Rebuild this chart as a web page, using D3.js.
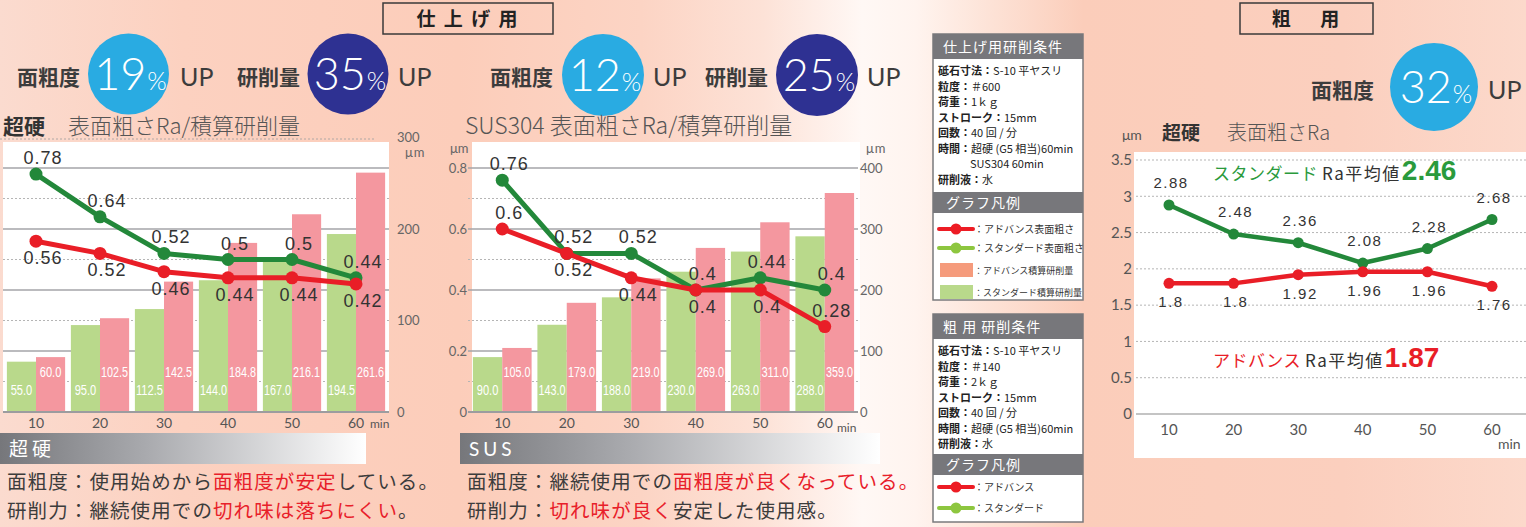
<!DOCTYPE html>
<html>
<head>
<meta charset="utf-8">
<script src="https://cdn.jsdelivr.net/npm/d3@7"></script>
<style>
  html, body { margin: 0; padding: 0; background: #fff; }
  svg { display: block; }
</style>
</head>
<body>
<svg id="chart" width="1526" height="527"></svg>
<script>
// ---- data ----
const minutes = [10, 20, 30, 40, 50, 60];

// 超硬 (finishing)
const carbideStdRa = [0.78, 0.64, 0.52, 0.5, 0.5, 0.44];
const carbideAdvRa = [0.56, 0.52, 0.46, 0.44, 0.44, 0.42];
const carbideStdRemoval = [55.0, 95.0, 112.5, 144.0, 167.0, 194.5];
const carbideAdvRemoval = [60.0, 102.5, 142.5, 184.8, 216.1, 261.6];

// SUS304 (finishing)
const susStdRa = [0.76, 0.52, 0.52, 0.4, 0.44, 0.4];
const susAdvRa = [0.6, 0.52, 0.44, 0.4, 0.4, 0.28];
const susStdRemoval = [90.0, 143.0, 188.0, 230.0, 263.0, 288.0];
const susAdvRemoval = [105.0, 179.0, 219.0, 269.0, 311.0, 359.0];

// 超硬 (roughing)
const roughStdRa = [2.88, 2.48, 2.36, 2.08, 2.28, 2.68];
const roughAdvRa = [1.8, 1.8, 1.92, 1.96, 1.96, 1.76];
const roughStdAvg = 2.46;
const roughAdvAvg = 1.87;

// tick values
const raTicks = [0, 0.2, 0.4, 0.6, 0.8];
const carbideRemovalTicks = [0, 100, 200, 300];
const susRemovalTicks = [0, 100, 200, 300, 400];
const roughRaTicks = [0, 0.5, 1, 1.5, 2, 2.5, 3, 3.5];

// ---- colours & fonts ----
const C = {
  stdLine: "#23883a", advLine: "#e91e27",
  stdBar: "#b9d98b", advBar: "#f4979f",
  text: "#444", tick: "#666",
  sky: "#29abe2", navy: "#2e3192",
  legendGreen: "#8dc63f", legendSalmon: "#f59b7c"
};
const JP = "'Noto Sans CJK JP', 'Noto Sans', sans-serif";
const LAT = "Lato, 'Open Sans', 'Liberation Sans', sans-serif";
const NUM = "'Liberation Sans', Arial, sans-serif";

const svg = d3.select("#chart");
const defs = svg.append("defs");

// background wash
const bgGrad = defs.append("linearGradient").attr("id", "bgGrad")
  .attr("x1", 0).attr("x2", 1).attr("y1", 0).attr("y2", 0);
[[0, "#fbdbcf"], [0.12, "#fcd1c0"], [0.3, "#fccdba"], [0.42, "#fcd4c4"],
 [0.5, "#fde2d7"], [0.565, "#fff8f5"], [0.6, "#fff4ef"], [0.65, "#fde2d6"],
 [0.71, "#fbcdba"], [0.88, "#fbcfbe"], [1, "#fcd9cb"]]
  .forEach(([o, c]) => bgGrad.append("stop").attr("offset", o).attr("stop-color", c));
svg.append("rect").attr("width", 1526).attr("height", 527).attr("fill", "url(#bgGrad)");

// grey fade for section captions
const capGrad = defs.append("linearGradient").attr("id", "capGrad")
  .attr("x1", 0).attr("x2", 1).attr("y1", 0).attr("y2", 0);
[[0, "#76777b"], [0.4, "#a9aaae"], [1, "#ffffff"]]
  .forEach(([o, c]) => capGrad.append("stop").attr("offset", o).attr("stop-color", c));

// ---- helpers ----
function txt(g, x, y, s, size, opts = {}) {
  return g.append("text").attr("x", x).attr("y", y).text(s)
    .attr("font-family", opts.family || JP)
    .attr("font-size", size)
    .attr("font-weight", opts.weight || 400)
    .attr("fill", opts.fill || C.text)
    .attr("text-anchor", opts.anchor || "start")
    .attr("letter-spacing", opts.ls || 0);
}

function titleBox(x, y, w, h, label) {
  svg.append("rect").attr("x", x).attr("y", y).attr("width", w).attr("height", h)
    .attr("fill", "none").attr("stroke", "#3a3a3a").attr("stroke-width", 1.5);
  txt(svg, x + w / 2, y + h / 2 + 7, label, 19, { weight: 700, anchor: "middle", fill: "#222", ls: 2 });
}

function badge(label, lx, cx, cy, r, color, pct, upX, baseY) {
  txt(svg, lx, baseY, label, 21, { weight: 700, fill: "#3c3c3c" });
  svg.append("circle").attr("cx", cx).attr("cy", cy).attr("r", r).attr("fill", color);
  const t = svg.append("text").attr("x", cx + 2).attr("y", cy + 16)
    .attr("text-anchor", "middle").attr("fill", "#fff").attr("font-family", LAT).attr("font-weight", 300);
  t.append("tspan").attr("font-size", 45).text(pct);
  t.append("tspan").attr("font-size", 25).attr("dx", 1).text("%");
  txt(svg, upX, baseY + 1, "UP", 25, { family: LAT, fill: "#3c3c3c" });
}

// condensed white value label inside a bar
function barLabel(sel, x, y, fmt) {
  sel.append("text").attr("x", x).attr("y", y).attr("text-anchor", "middle")
    .attr("font-family", NUM).attr("font-size", 14).attr("fill", "#fff")
    .attr("lengthAdjust", "spacingAndGlyphs")
    .attr("textLength", (d, i) => fmt(i).length * 5.4)
    .text((d, i) => fmt(i));
}

// ---- dual-axis chart: Ra lines over cumulative removal bars ----
function dualChart(o) {
  const g = svg.append("g");
  const x = d3.scaleBand().domain(minutes).range([o.x0, o.x1]).paddingInner(0.09).paddingOuter(0.045);
  const half = x.bandwidth() / 2;
  const yRa = d3.scaleLinear().domain([0, 0.8]).range([412, 168]);
  const yRem = d3.scaleLinear().domain([0, o.remMax]).range([412, o.remTopY]);

  g.append("rect").attr("x", o.plotX0).attr("y", 142)
    .attr("width", o.plotX1 - o.plotX0).attr("height", 270).attr("fill", "#fff");

  // grid: solid at Ra ticks, dotted half-way between
  raTicks.forEach((t, i) => {
    if (t > 0) g.append("line").attr("x1", o.gridX0).attr("x2", o.gridX1)
      .attr("y1", yRa(t)).attr("y2", yRa(t)).attr("stroke", "#a5a5a8").attr("stroke-width", 1.6);
    if (i < raTicks.length - 1) {
      const m = (t + raTicks[i + 1]) / 2;
      g.append("line").attr("x1", o.gridX0).attr("x2", o.gridX1)
        .attr("y1", yRa(m)).attr("y2", yRa(m)).attr("stroke", "#b5b5b5")
        .attr("stroke-width", 1).attr("stroke-dasharray", "2,2");
    }
  });

  // bars
  const grp = g.selectAll("g.grp").data(minutes).enter().append("g")
    .attr("transform", d => `translate(${x(d)},0)`);
  grp.append("rect").attr("x", 0).attr("width", half)
    .attr("y", (d, i) => yRem(o.stdRem[i])).attr("height", (d, i) => 412 - yRem(o.stdRem[i]))
    .attr("fill", C.stdBar);
  grp.append("rect").attr("x", half).attr("width", half)
    .attr("y", (d, i) => yRem(o.advRem[i])).attr("height", (d, i) => 412 - yRem(o.advRem[i]))
    .attr("fill", C.advBar);
  barLabel(grp, half / 2, 395, i => o.stdRem[i].toFixed(1));
  barLabel(grp, half * 1.5, 377, i => o.advRem[i].toFixed(1));

  // base line
  g.append("line").attr("x1", o.gridX0).attr("x2", o.gridX1).attr("y1", 412).attr("y2", 412)
    .attr("stroke", "#9c9c9f").attr("stroke-width", 2);

  // right axis (cumulative removal)
  const ra = g.append("g").attr("transform", `translate(${o.rightAxisX},0)`)
    .call(d3.axisRight(yRem).tickValues(o.remTicks).tickSize(0).tickPadding(3));
  ra.select(".domain").remove();
  ra.selectAll("text").attr("font-family", LAT).attr("font-size", 13).attr("fill", C.tick);
  txt(g, o.rightUnitX, o.rightUnitY, "μm", 13, { family: LAT, fill: C.tick, ls: 1 });

  // left axis (Ra) when shown
  if (o.leftAxis) {
    const la = g.append("g").attr("transform", `translate(${o.gridX0 + 2},0)`)
      .call(d3.axisLeft(yRa).tickValues(raTicks).tickSize(0).tickPadding(3)
        .tickFormat(d => d === 0 ? "0" : d3.format(".1f")(d)));
    la.select(".domain").remove();
    la.selectAll("text").attr("font-family", LAT).attr("font-size", 13).attr("fill", C.tick);
    txt(g, o.gridX0 - 18, 153, "μm", 13, { family: LAT, fill: C.tick });
  }

  // x labels
  minutes.forEach(d => {
    txt(g, x(d) + half, 428, String(d), 14, { family: LAT, anchor: "middle", fill: "#555" });
  });
  txt(g, o.minX, o.minY, "min", 12, { family: LAT, fill: "#555" });

  // Ra lines
  const line = d3.line().x((v, i) => x(minutes[i]) + half).y(v => yRa(v));
  [[o.stdRa, C.stdLine], [o.advRa, C.advLine]].forEach(([vals, col]) => {
    g.append("path").datum(vals).attr("d", line).attr("fill", "none")
      .attr("stroke", col).attr("stroke-width", 5).attr("stroke-linejoin", "round");
    g.selectAll(null).data(vals).enter().append("circle")
      .attr("cx", (v, i) => x(minutes[i]) + half).attr("cy", v => yRa(v))
      .attr("r", 6.5).attr("fill", col);
  });

  // Ra value labels
  const label = (vals, side) => vals.forEach((v, i) => {
    const above = side[i] === "above";
    txt(g, x(minutes[i]) + half + 7, yRa(v) + (above ? -10 : 23), String(v), 18,
      { family: NUM, anchor: "middle", fill: "#333", ls: 1 });
  });
  label(o.stdRa, o.stdSide);
  label(o.advRa, o.advSide);
}

// ---- header band ----
titleBox(383, 3, 170, 31, "仕 上 げ 用");
titleBox(1240, 3, 133, 31, "粗　 用");

badge("面粗度", 17, 128.5, 74, 40.5, C.sky, "19", 180, 85);
badge("研削量", 237, 348, 74, 40.5, C.navy, "35", 398, 85);
badge("面粗度", 490, 603, 75, 41, C.sky, "12", 653, 85);
badge("研削量", 705, 817, 75, 41, C.navy, "25", 867, 85);
badge("面粗度", 1311, 1434, 87, 44, C.sky, "32", 1488, 98);

// ---- chart titles ----
txt(svg, 3, 134, "超硬", 21, { weight: 700, fill: "#333" });
txt(svg, 68, 134, "表面粗さRa/積算研削量", 22, { weight: 300, fill: "#555" });
svg.append("line").attr("x1", 0).attr("x2", 376).attr("y1", 139).attr("y2", 139)
  .attr("stroke", "#b0a8a5").attr("stroke-width", 1).attr("stroke-dasharray", "2,2");
txt(svg, 465, 134, "SUS304 表面粗さRa/積算研削量", 23, { weight: 300, fill: "#555" });

dualChart({
  x0: 4, x1: 388, plotX0: 3, plotX1: 389, gridX0: 3, gridX1: 389,
  stdRa: carbideStdRa, advRa: carbideAdvRa,
  stdRem: carbideStdRemoval, advRem: carbideAdvRemoval,
  remMax: 300, remTopY: 137.5, remTicks: carbideRemovalTicks,
  rightAxisX: 394, rightUnitX: 405, rightUnitY: 157, leftAxis: false,
  minX: 370, minY: 428,
  stdSide: ["above", "above", "above", "above", "above", "above"],
  advSide: ["below", "below", "below", "below", "below", "below"]
});

dualChart({
  x0: 470, x1: 857, plotX0: 472, plotX1: 860, gridX0: 468, gridX1: 858,
  stdRa: susStdRa, advRa: susAdvRa,
  stdRem: susStdRemoval, advRem: susAdvRemoval,
  remMax: 400, remTopY: 168, remTicks: susRemovalTicks,
  rightAxisX: 857, rightUnitX: 866, rightUnitY: 153, leftAxis: true,
  minX: 837, minY: 432,
  stdSide: ["above", "above", "above", "above", "above", "above"],
  advSide: ["above", "below", "below", "below", "below", "above"]
});

// ---- roughing chart ----
(function () {
  const g = svg.append("g");
  const x = d3.scalePoint().domain(minutes).range([1169, 1492]);
  const y = d3.scaleLinear().domain([0, 3.5]).range([414, 160]);

  txt(g, 1122, 140, "μm", 14, { family: LAT, fill: "#555" });
  txt(g, 1162, 140, "超硬", 19, { weight: 700, fill: "#333" });
  txt(g, 1227, 140, "表面粗さRa", 20, { weight: 300, fill: "#555" });

  g.append("rect").attr("x", 1134).attr("y", 152).attr("width", 392).attr("height", 306).attr("fill", "#fff");

  roughRaTicks.filter(t => t > 0).forEach(t => {
    g.append("line").attr("x1", 1136).attr("x2", 1526).attr("y1", y(t)).attr("y2", y(t))
      .attr("stroke", "#b5b5b5").attr("stroke-width", 1).attr("stroke-dasharray", "2,2");
  });
  g.append("line").attr("x1", 1136).attr("x2", 1526).attr("y1", y(0)).attr("y2", y(0))
    .attr("stroke", "#b0b0b0").attr("stroke-width", 1.5);

  const ya = g.append("g").attr("transform", "translate(1134,0)")
    .call(d3.axisLeft(y).tickValues(roughRaTicks).tickSize(0).tickPadding(2).tickFormat(d => String(d)));
  ya.select(".domain").remove();
  ya.selectAll("text").attr("font-family", LAT).attr("font-size", 15).attr("fill", "#555");

  minutes.forEach(d => txt(g, x(d), 435, String(d), 15, { family: LAT, anchor: "middle", fill: "#555" }));
  txt(g, 1498, 449, "min", 14, { family: LAT, fill: "#555" });

  const line = d3.line().x((v, i) => x(minutes[i])).y(v => y(v));
  [[roughStdRa, C.stdLine], [roughAdvRa, C.advLine]].forEach(([vals, col]) => {
    g.append("path").datum(vals).attr("d", line).attr("fill", "none")
      .attr("stroke", col).attr("stroke-width", 4.5).attr("stroke-linejoin", "round");
    g.selectAll(null).data(vals).enter().append("circle")
      .attr("cx", (v, i) => x(minutes[i])).attr("cy", v => y(v)).attr("r", 5.5).attr("fill", col);
  });
  roughStdRa.forEach((v, i) => txt(g, x(minutes[i]) + 2, y(v) - 17, String(v), 15,
    { family: NUM, anchor: "middle", fill: "#333", ls: 1.5 }));
  roughAdvRa.forEach((v, i) => txt(g, x(minutes[i]) + 2, y(v) + 24, String(v), 15,
    { family: NUM, anchor: "middle", fill: "#333", ls: 1.5 }));

  // averages
  const avg = (yy, name, col, val) => {
    const t = g.append("text").attr("x", 1213).attr("y", yy).attr("font-family", JP);
    t.append("tspan").attr("font-size", 17).attr("fill", col).attr("letter-spacing", 0.5).text(name);
    t.append("tspan").attr("font-size", 17).attr("fill", "#333").attr("dx", 4).attr("letter-spacing", 1.5).text("Ra平均値");
    t.append("tspan").attr("font-size", 28).attr("font-weight", 700).attr("font-family", NUM)
      .attr("dx", 1).attr("fill", col).text(String(val));
  };
  avg(180, "スタンダード", "#2a9a3c", roughStdAvg);
  avg(367, "アドバンス", "#e91e27", roughAdvAvg);
})();

// ---- condition / legend boxes ----
function condBox(o) {
  const g = svg.append("g");
  g.append("rect").attr("x", 933).attr("y", o.top).attr("width", 150).attr("height", o.bottom - o.top)
    .attr("fill", "#fff").attr("stroke", "#7a7a7c").attr("stroke-width", 1.5);
  g.append("rect").attr("x", 933).attr("y", o.top).attr("width", 150).attr("height", 25).attr("fill", "#77777b");
  txt(g, 943, o.top + 18, o.title, 14, { fill: "#fff", ls: 1 });
  o.rows.forEach((r, i) => {
    const t = g.append("text").attr("x", r[2] || 938).attr("y", o.top + 41 + i * 15.5)
      .attr("font-family", JP).attr("font-size", 11).attr("fill", "#222");
    if (r[0]) t.append("tspan").attr("font-weight", 700).text(r[0]);
    t.append("tspan").text(r[1]);
  });
  g.append("rect").attr("x", 933).attr("y", o.legTop).attr("width", 150).attr("height", 21).attr("fill", "#77777b");
  txt(g, 946, o.legTop + 16, "グラフ凡例", 14, { fill: "#fff", ls: 1 });
  o.items.forEach(it => {
    if (it.type === "line") {
      g.append("line").attr("x1", 939).attr("x2", 973).attr("y1", it.y).attr("y2", it.y)
        .attr("stroke", it.color).attr("stroke-width", 4).attr("stroke-linecap", "round");
      g.append("circle").attr("cx", 956).attr("cy", it.y).attr("r", 5.5).attr("fill", it.color);
    } else {
      g.append("rect").attr("x", 940).attr("y", it.y - 7).attr("width", 33).attr("height", 14).attr("fill", it.color);
    }
    txt(g, 974, it.y + 4, it.label, it.type === "line" ? 10 : 9, { fill: "#333" });
  });
}

condBox({
  top: 34, bottom: 300, legTop: 192, title: "仕上げ用研削条件",
  rows: [["砥石寸法：", "S-10 平ヤスリ"], ["粒度：", "＃600"], ["荷重：", "1ｋｇ"],
         ["ストローク：", "15mm"], ["回数：", "40 回 / 分"], ["時間：", "超硬 (G5 相当)60min"],
         ["", "SUS304  60min", 970], ["研削液：", "水"]],
  items: [{ type: "line", y: 229, color: "#ed1c24", label: "：アドバンス表面粗さ" },
          { type: "line", y: 248, color: C.legendGreen, label: "：スタンダード表面粗さ" },
          { type: "rect", y: 270, color: C.legendSalmon, label: "：アドバンス積算研削量" },
          { type: "rect", y: 292, color: C.stdBar, label: "：スタンダード積算研削量" }]
});

condBox({
  top: 314, bottom: 522, legTop: 454, title: "粗 用 研削条件",
  rows: [["砥石寸法：", "S-10 平ヤスリ"], ["粒度：", "＃140"], ["荷重：", "2ｋｇ"],
         ["ストローク：", "15mm"], ["回数：", "40 回 / 分"], ["時間：", "超硬 (G5 相当)60min"],
         ["研削液：", "水"]],
  items: [{ type: "line", y: 487, color: "#ed1c24", label: "：アドバンス" },
          { type: "line", y: 508, color: C.legendGreen, label: "：スタンダード" }]
});

// ---- bottom captions ----
function caption(x, w, label, lines) {
  svg.append("rect").attr("x", x).attr("y", 433).attr("width", w).attr("height", 31).attr("fill", "url(#capGrad)");
  txt(svg, x + 9, 456, label, 19, { fill: "#fff", ls: 4, family: label === "SUS" ? LAT : JP });
  lines.forEach((parts, i) => {
    const t = svg.append("text").attr("x", x + 7).attr("y", 489 + i * 29)
      .attr("font-family", JP).attr("font-size", 19.5).attr("letter-spacing", 1.1);
    parts.forEach(([s, red]) => t.append("tspan").attr("fill", red ? "#e8202a" : "#3c3c3c").text(s));
  });
}
caption(0, 366, "超硬", [
  [["面粗度：使用始めから"], ["面粗度が安定", 1], ["している。"]],
  [["研削力：継続使用での"], ["切れ味は落ちにくい", 1], ["。"]]
]);
caption(460, 420, "SUS", [
  [["面粗度：継続使用での"], ["面粗度が良くなっている。", 1]],
  [["研削力："], ["切れ味が良く", 1], ["安定した使用感。"]]
]);
</script>
</body>
</html>
